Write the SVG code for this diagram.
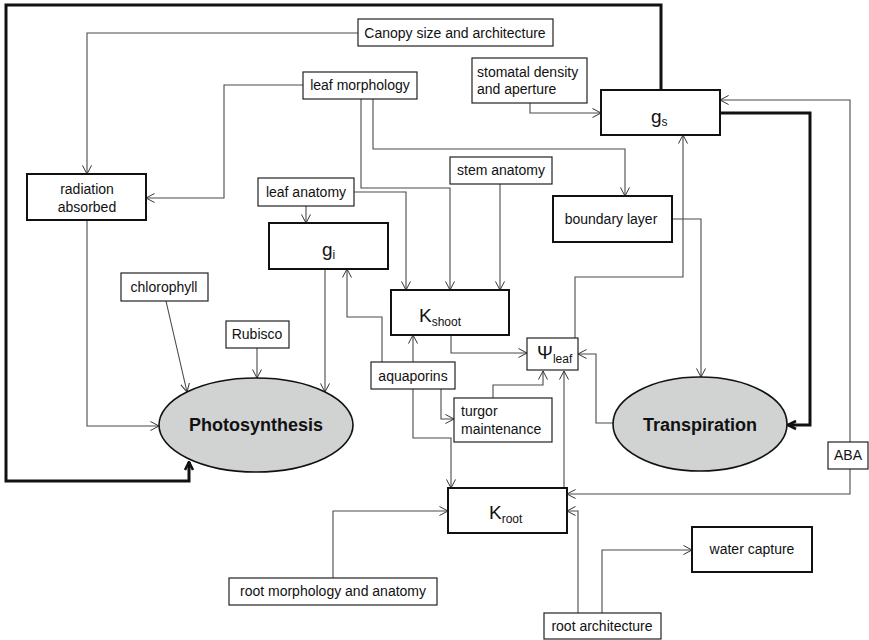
<svg xmlns="http://www.w3.org/2000/svg" width="869" height="640" viewBox="0 0 869 640">
<style>
text{font-family:"Liberation Sans",Arial,sans-serif;fill:#111}
.t{font-size:14px}
.m{text-anchor:middle}
.big{font-size:19px}
.sub{font-size:12px}
.bold{font-size:18px;font-weight:bold}
.bx{fill:#fff;stroke:#222;stroke-width:1.2}
.bb{fill:#fff;stroke:#111;stroke-width:2}
.el{fill:#d1d2d2;stroke:#111;stroke-width:1.6}
.c{fill:none;stroke:#4a4a4a;stroke-width:1.1;marker-end:url(#a)}
.k{fill:none;stroke:#111;stroke-width:3;marker-end:url(#b)}
</style>
<defs>
<marker id="a" viewBox="0 0 10 10" refX="9.5" refY="5" markerWidth="9" markerHeight="10" markerUnits="userSpaceOnUse" orient="auto">
<path d="M0,0 L9.5,5 L0,10" fill="none" stroke="#333" stroke-width="1.1"/>
</marker>
<marker id="b" viewBox="0 0 10 10" refX="9" refY="5" markerWidth="10" markerHeight="12" markerUnits="userSpaceOnUse" orient="auto">
<path d="M1,1 L9,5 L1,9" fill="none" stroke="#111" stroke-width="2.6"/>
</marker>
</defs>
<rect width="869" height="640" fill="#fff"/>
<g id="connectors">
<path class="c" d="M358,33 H87 V174"/>
<path class="c" d="M303,85 H224 V198 H146"/>
<path class="c" d="M361,99 V188 H450 V290"/>
<path class="c" d="M373,99 V149 H625 V196"/>
<path class="c" d="M530,103 V113 H601"/>
<path class="c" d="M306,206 V223"/>
<path class="c" d="M354,192 H406 V290"/>
<path class="c" d="M500,184 V290"/>
<path class="c" d="M87,220 V426 H159"/>
<path class="c" d="M166,301 L187,392"/>
<path class="c" d="M257,348 V378"/>
<path class="c" d="M325,269 V392"/>
<path class="c" d="M382,362 V317 H347 V269"/>
<path class="c" d="M413,362 V335"/>
<path class="c" d="M441,389 V419 H454"/>
<path class="c" d="M413,389 V438 H451 V488"/>
<path class="c" d="M493,398 V385 H543 V371"/>
<path class="c" d="M451,335 V353 H527"/>
<path class="c" d="M575,338 V277 H683 V135"/>
<path class="c" d="M672,219 H701 V377"/>
<path class="c" d="M613,423 H596 V354 H578"/>
<path class="c" d="M564,488 V371"/>
<path class="c" d="M850,442 V100 H720"/>
<path class="c" d="M850,468 V494 H567"/>
<path class="c" d="M578,613 V511 H567"/>
<path class="c" d="M602,613 V550 H692"/>
<path class="c" d="M333,578 V511 H448"/>
<path class="k" d="M661,90 V5 H6 V481 H189 V462"/>
<path class="k" d="M720,113 H810 V425 H788"/>
</g>
<g id="canopy"><rect class="bx" x="358" y="19" width="195" height="27"/><text class="t m" x="455" y="38">Canopy size and architecture</text></g>
<g id="leafmorph"><rect class="bx" x="303" y="72" width="114" height="27"/><text class="t m" x="360" y="90">leaf morphology</text></g>
<g id="stomatal"><rect class="bx" x="472" y="58" width="115" height="45"/><text class="t" x="477" y="77">stomatal density</text><text class="t" x="477" y="94">and aperture</text></g>
<g id="gs"><rect class="bb" x="601" y="90" width="119" height="45"/><text class="big" x="651" y="123">g<tspan class="sub" dy="3">s</tspan></text></g>
<g id="radiation"><rect class="bb" x="27" y="174" width="119" height="46"/><text class="t m" x="87" y="194">radiation</text><text class="t m" x="87" y="212">absorbed</text></g>
<g id="leafanat"><rect class="bx" x="258" y="178" width="96" height="28"/><text class="t m" x="306" y="197">leaf anatomy</text></g>
<g id="stemanat"><rect class="bx" x="450" y="157" width="102" height="27"/><text class="t m" x="501" y="175">stem anatomy</text></g>
<g id="boundary"><rect class="bb" x="553" y="196" width="119" height="46"/><text class="t m" x="611" y="224">boundary layer</text></g>
<g id="gi"><rect class="bb" x="269" y="223" width="119" height="46"/><text class="big" x="322" y="256">g<tspan class="sub" dy="3">i</tspan></text></g>
<g id="kshoot"><rect class="bb" x="391" y="290" width="118" height="45"/><text class="big" x="419" y="322">K<tspan class="sub" dy="4">shoot</tspan></text></g>
<g id="chlorophyll"><rect class="bx" x="121" y="273" width="87" height="28"/><text class="t m" x="164" y="292">chlorophyll</text></g>
<g id="rubisco"><rect class="bx" x="226" y="321" width="63" height="27"/><text class="t m" x="257" y="339">Rubisco</text></g>
<g id="aquaporins"><rect class="bx" x="371" y="362" width="84" height="27"/><text class="t m" x="413" y="381">aquaporins</text></g>
<g id="psileaf"><rect class="bx" x="527" y="338" width="51" height="32"/><text class="big" x="537" y="359">Ψ<tspan class="sub" dy="4">leaf</tspan></text></g>
<g id="turgor"><rect class="bx" x="454" y="398" width="98" height="44"/><text class="t" x="461" y="416">turgor</text><text class="t" x="461" y="434">maintenance</text></g>
<g id="photosynthesis"><ellipse class="el" cx="256" cy="425" rx="97" ry="47"/><text class="bold m" x="256" y="431">Photosynthesis</text></g>
<g id="transpiration"><ellipse class="el" cx="700" cy="424" rx="87" ry="47"/><text class="bold m" x="700" y="431">Transpiration</text></g>
<g id="aba"><rect class="bx" x="828" y="442" width="40" height="27"/><text class="t m" x="848" y="460">ABA</text></g>
<g id="kroot"><rect class="bb" x="448" y="488" width="119" height="45"/><text class="big" x="489" y="519">K<tspan class="sub" dy="4">root</tspan></text></g>
<g id="water"><rect class="bb" x="692" y="527" width="120" height="45"/><text class="t m" x="752" y="554">water capture</text></g>
<g id="rootmorph"><rect class="bx" x="229" y="578" width="208" height="27"/><text class="t m" x="333" y="596">root morphology and anatomy</text></g>
<g id="rootarch"><rect class="bx" x="544" y="613" width="117" height="26"/><text class="t m" x="602" y="631">root architecture</text></g>
</svg>
